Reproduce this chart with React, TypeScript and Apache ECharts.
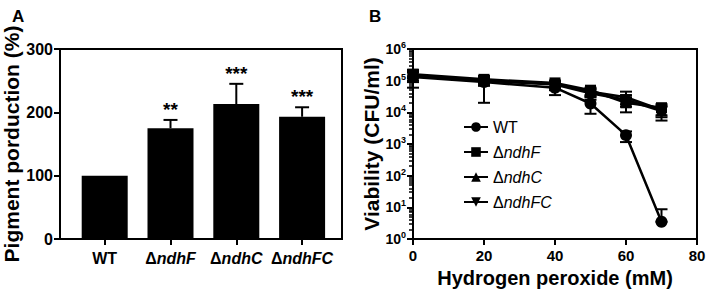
import React, { useEffect, useRef } from "react";
import * as echarts from "echarts";

const FONT = "'Liberation Sans', Arial, Helvetica, sans-serif";

// Panel A
const barCats = ["WT", "ΔndhF", "ΔndhC", "ΔndhFC"];
const barValues = [100, 175, 213, 193];
const barErrTop = [100, 188, 245, 208];
const barStars = ["", "**", "***", "***"];
const barTicks = [0, 100, 200, 300];

// Panel B
const doses = [0, 20, 40, 50, 60, 70];
const seriesNames = ["WT", "ΔndhF", "ΔndhC", "ΔndhFC"];
const wtVals = [130000, 90000, 60000, 19000, 1900, 3.5];
const wtLow = [60000, 70000, 35000, 9000, 1150, 3.5];
const wtHigh = [180000, 110000, 80000, 25000, 2500, 8.7];
const fVals = [160000, 110000, 85000, 50000, 20000, 14000];
const fLow = [120000, 20000, 50000, 35000, 10000, 8000];
const fHigh = [200000, 140000, 100000, 60000, 30000, 18000];
const cVals = [150000, 100000, 80000, 45000, 30000, 12000];
const cLow = [100000, 70000, 60000, 32000, 18000, 5500];
const cHigh = [200000, 130000, 90000, 55000, 45000, 16000];
const fcVals = [140000, 100000, 75000, 40000, 25000, 11000];
const fcLow = [90000, 80000, 60000, 30000, 15000, 7000];
const fcHigh = [220000, 120000, 90000, 50000, 35000, 15000];
const symbols = ["circle", "rect", "triangle", "triangle"];
const symbolRotates = [0, 0, 0, 180];

export default function App() {
  const ref = useRef<HTMLDivElement>(null);
  useEffect(() => {
    if (!ref.current) return;
    const chart = echarts.init(ref.current, undefined, { renderer: "svg" });
    const vals = [wtVals, fVals, cVals, fcVals];
    const lows = [wtLow, fLow, cLow, fcLow];
    const highs = [wtHigh, fHigh, cHigh, fcHigh];

    const errData: number[][] = [];
    vals.forEach((s, si) => {
      s.forEach((v, i) => {
        errData.push([doses[i], lows[si][i], highs[si][i]]);
      });
    });

    const italicLabel = (name: string, key: string, ikey: string) =>
      name.startsWith("Δ") ? `{${key}|Δ}{${ikey}|${name.slice(1)}}` : `{${key}|${name}}`;

    const option: any = {
      animation: false,
      textStyle: { fontFamily: FONT },
      title: [
        { text: "A", left: 7, top: 3, textStyle: { fontFamily: FONT, fontSize: 17, fontWeight: "bold", color: "#000" } },
        { text: "B", left: 364, top: 3, textStyle: { fontFamily: FONT, fontSize: 17, fontWeight: "bold", color: "#000" } },
      ],
      legend: {
        orient: "vertical",
        left: 458,
        top: 114,
        itemWidth: 24,
        itemHeight: 12,
        itemGap: 9,
        data: seriesNames,
        formatter: (name: string) => italicLabel(name, "n", "i"),
        textStyle: {
          color: "#000",
          rich: {
            n: { fontFamily: FONT, fontSize: 16, color: "#000" },
            i: { fontFamily: FONT, fontSize: 16, fontStyle: "italic", color: "#000" },
          },
        },
      },
      grid: [
        { left: 60, top: 49, width: 282, height: 190, show: true, borderColor: "#000", borderWidth: 2, backgroundColor: "transparent" },
        { left: 71.8, top: 49, width: 263.2, height: 190 },
        { left: 413, top: 49, width: 284, height: 190, show: true, borderColor: "#000", borderWidth: 2, backgroundColor: "transparent" },
      ],
      xAxis: [
        { gridIndex: 0, type: "value", min: 0, max: 1, show: false },
        {
          gridIndex: 1,
          type: "category",
          data: barCats,
          axisLine: { show: false },
          axisTick: { show: true, alignWithLabel: true, interval: 0, length: 6, lineStyle: { color: "#000", width: 2 } },
          axisLabel: {
            interval: 0,
            margin: 11,
            formatter: (name: string) => italicLabel(name, "b", "bi"),
            rich: {
              b: { fontFamily: FONT, fontSize: 16, fontWeight: "bold", color: "#000" },
              bi: { fontFamily: FONT, fontSize: 16, fontWeight: "bold", fontStyle: "italic", color: "#000" },
            },
          },
        },
        {
          gridIndex: 2,
          type: "value",
          min: 0,
          max: 80,
          interval: 20,
          splitLine: { show: false },
          axisLine: { lineStyle: { color: "#000", width: 2 } },
          axisTick: { length: 6, lineStyle: { color: "#000", width: 2 } },
          axisLabel: { margin: 9, color: "#000", fontFamily: FONT, fontSize: 15, fontWeight: "bold" },
          name: "Hydrogen peroxide (mM)",
          nameLocation: "middle",
          nameGap: 24,
          nameTextStyle: { fontFamily: FONT, fontSize: 20, fontWeight: "bold", color: "#000" },
        },
      ],
      yAxis: [
        {
          gridIndex: 0,
          type: "value",
          min: 0,
          max: 300,
          interval: 100,
          splitLine: { show: false },
          axisLine: { show: true, lineStyle: { color: "#000", width: 2 } },
          axisTick: { show: true, length: 6, lineStyle: { color: "#000", width: 2 } },
          axisLabel: { margin: 7, color: "#000", fontFamily: FONT, fontSize: 16, fontWeight: "bold", customValues: barTicks },
          name: "Pigment porduction (%)",
          nameLocation: "middle",
          nameRotate: 90,
          nameGap: 38,
          nameTextStyle: { fontFamily: FONT, fontSize: 21, fontWeight: "bold", color: "#000" },
        },
        { gridIndex: 1, type: "value", min: 0, max: 300, show: false },
        {
          gridIndex: 2,
          type: "log",
          logBase: 10,
          min: 1,
          max: 1000000,
          splitNumber: 6,
          splitLine: { show: false },
          axisLine: { show: true, lineStyle: { color: "#000", width: 2 } },
          axisTick: { show: true, length: 6, lineStyle: { color: "#000", width: 2 } },
          minorTick: { show: true, splitNumber: 9, length: 4, lineStyle: { color: "#000", width: 1.5 } },
          axisLabel: {
            margin: 7,
            formatter: (v: number) => `{b|10}{s|${Math.round(Math.log10(v))}}`,
            rich: {
              b: { fontFamily: FONT, fontSize: 14, fontWeight: "bold", color: "#000", lineHeight: 16 },
              s: { fontFamily: FONT, fontSize: 9, fontWeight: "bold", color: "#000", verticalAlign: "top", padding: [0, 0, 8, 0] },
            },
          },
          name: "Viability (CFU/ml)",
          nameLocation: "middle",
          nameRotate: 90,
          nameGap: 30,
          nameTextStyle: { fontFamily: FONT, fontSize: 21, fontWeight: "bold", color: "#000" },
        },
      ],
      series: [
        {
          type: "bar",
          xAxisIndex: 1,
          yAxisIndex: 1,
          data: barValues,
          barWidth: 46,
          itemStyle: { color: "#000" },
        },
        {
          type: "custom",
          xAxisIndex: 1,
          yAxisIndex: 1,
          data: barValues.map((v, i) => [i, v, barErrTop[i]]),
          renderItem: (params: any, api: any) => {
            const i = params.dataIndex;
            const base = api.coord([api.value(0), api.value(1)]);
            const top = api.coord([api.value(0), api.value(2)]);
            const children: any[] = [];
            if (api.value(2) > api.value(1)) {
              children.push({ type: "line", shape: { x1: base[0], y1: base[1], x2: top[0], y2: top[1] }, style: { stroke: "#000", lineWidth: 2 } });
              children.push({ type: "line", shape: { x1: top[0] - 7, y1: top[1], x2: top[0] + 7, y2: top[1] }, style: { stroke: "#000", lineWidth: 2 } });
            }
            if (barStars[i]) {
              children.push({
                type: "text",
                x: top[0],
                y: top[1] - 1,
                style: {
                  text: barStars[i],
                  fill: "#000",
                  font: `bold 19px ${FONT}`,
                  align: "center",
                  verticalAlign: "bottom",
                  textAlign: "center",
                  textVerticalAlign: "bottom",
                },
              });
            }
            return { type: "group", children };
          },
        },
        {
          type: "custom",
          xAxisIndex: 2,
          yAxisIndex: 2,
          data: errData,
          z: 3,
          renderItem: (params: any, api: any) => {
            const lo = api.coord([api.value(0), api.value(1)]);
            const hi = api.coord([api.value(0), api.value(2)]);
            const st = { stroke: "#000", lineWidth: 2 };
            return {
              type: "group",
              children: [
                { type: "line", shape: { x1: lo[0], y1: lo[1], x2: hi[0], y2: hi[1] }, style: st },
                { type: "line", shape: { x1: lo[0] - 6, y1: lo[1], x2: lo[0] + 6, y2: lo[1] }, style: st },
                { type: "line", shape: { x1: hi[0] - 6, y1: hi[1], x2: hi[0] + 6, y2: hi[1] }, style: st },
              ],
            };
          },
        },
        ...seriesNames.map((name, si) => ({
          type: "line",
          name,
          xAxisIndex: 2,
          yAxisIndex: 2,
          data: doses.map((d, i) => [d, vals[si][i]]),
          symbol: symbols[si],
          symbolRotate: symbolRotates[si],
          symbolSize: si === 0 ? 12 : 11,
          z: 4,
          lineStyle: { color: "#000", width: 2.5 },
          itemStyle: { color: "#000" },
        })),
      ],
    };
    chart.setOption(option);
    return () => chart.dispose();
  }, []);
  return <div ref={ref} style={{ width: 709, height: 293, position: "absolute", left: 0, top: 0, background: "#fff" }} />;
}
